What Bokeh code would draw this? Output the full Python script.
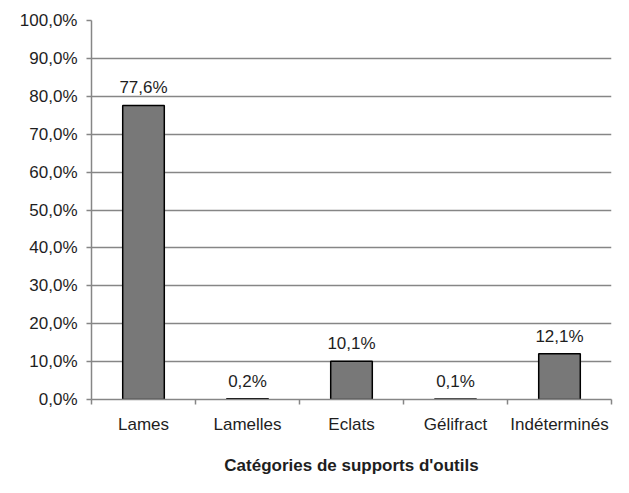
from bokeh.plotting import figure
from bokeh.models import Range1d, FixedTicker
from bokeh.core.properties import value
from bokeh.embed import file_html
from bokeh.resources import INLINE

categories = ["Lames", "Lamelles", "Eclats", "Gélifract", "Indéterminés"]
values = [77.6, 0.2, 10.1, 0.1, 12.1]
y_ticks = [0, 10, 20, 30, 40, 50, 60, 70, 80, 90, 100]
y_tick_labels = ["0,0%", "10,0%", "20,0%", "30,0%", "40,0%", "50,0%",
                 "60,0%", "70,0%", "80,0%", "90,0%", "100,0%"]
x_title = "Catégories de supports d'outils"

FONT = "Liberation Sans"
GRAY = "#868686"
TXT = "#1e1e1e"

p = figure(width=613, height=477, output_backend="svg", toolbar_location=None,
           x_range=Range1d(0, len(categories)), y_range=Range1d(0, 100))
p.min_border_left = 91
p.min_border_right = 2
p.min_border_top = 20
p.min_border_bottom = 77
p.outline_line_color = None
p.background_fill_color = "white"
p.border_fill_color = "white"

xs = [i + 0.5 for i in range(len(categories))]
p.vbar(x=xs, top=values, width=0.4, bottom=0, fill_color="#787878",
       line_color="black", line_width=1.5)

labels = [f"{v:.1f}%".replace(".", ",") for v in values]
p.text(x=xs, y=values, text=labels, text_align="center",
       text_baseline="bottom", y_offset=-8,
       text_font=value(FONT), text_font_size="17px", text_color=TXT)

# y axis
p.yaxis.ticker = FixedTicker(ticks=y_ticks)
p.yaxis.major_label_overrides = {t: l for t, l in zip(y_ticks, y_tick_labels)}
p.yaxis.minor_tick_line_color = None
p.yaxis.major_tick_out = 5
p.yaxis.major_tick_in = 0
p.yaxis.major_tick_line_color = GRAY
p.yaxis.major_tick_line_width = 1.5
p.yaxis.axis_line_color = GRAY
p.yaxis.axis_line_width = 1.5
p.yaxis.major_label_standoff = 9
p.yaxis.major_label_text_font = FONT
p.yaxis.major_label_text_font_size = "17px"
p.yaxis.major_label_text_color = TXT

# x axis
p.xaxis.ticker = FixedTicker(ticks=xs, minor_ticks=list(range(len(categories) + 1)))
p.xaxis.major_label_overrides = {x: c for x, c in zip(xs, categories)}
p.xaxis.major_tick_line_color = None
p.xaxis.major_tick_out = 0
p.xaxis.major_tick_in = 0
p.xaxis.minor_tick_out = 5
p.xaxis.minor_tick_in = 0
p.xaxis.minor_tick_line_color = GRAY
p.xaxis.minor_tick_line_width = 1.5
p.xaxis.axis_line_color = GRAY
p.xaxis.axis_line_width = 1.5
p.xaxis.major_label_standoff = 10
p.xaxis.major_label_text_font = FONT
p.xaxis.major_label_text_font_size = "17px"
p.xaxis.major_label_text_color = TXT
p.xaxis.axis_label = x_title
p.xaxis.axis_label_text_font = FONT
p.xaxis.axis_label_text_font_size = "17px"
p.xaxis.axis_label_text_font_style = "bold"
p.xaxis.axis_label_text_color = TXT
p.xaxis.axis_label_standoff = 19

p.xgrid.grid_line_color = None
p.ygrid.ticker = FixedTicker(ticks=y_ticks)
p.ygrid.grid_line_color = GRAY
p.ygrid.grid_line_width = 1.5

open("out.html", "w").write(file_html(p, INLINE))
